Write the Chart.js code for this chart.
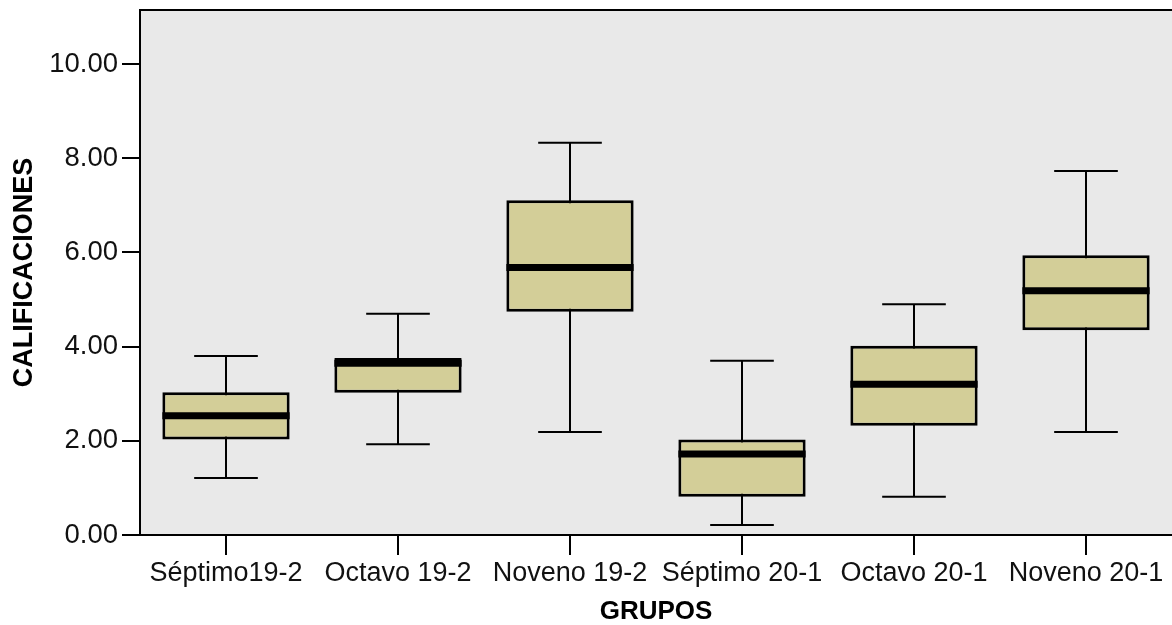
<!DOCTYPE html>
<html>
<head>
<meta charset="utf-8">
<script src="https://cdn.jsdelivr.net/npm/chart.js@4"></script>
<style>
  html, body { margin: 0; padding: 0; background: #fff; overflow: hidden; }
  #wrap { width: 1172px; height: 625px; position: relative; }
</style>
</head>
<body>
<div id="wrap"><canvas id="box-chart"></canvas></div>
<script>
var grupos = ["Séptimo19-2", "Octavo 19-2", "Noveno 19-2", "Séptimo 20-1", "Octavo 20-1", "Noveno 20-1"];
var minimos = [1.21, 1.93, 2.19, 0.21, 0.81, 2.19];
var cuartil1 = [2.03, 3.02, 4.74, 0.81, 2.32, 4.35];
var medianas = [2.53, 3.65, 5.68, 1.72, 3.20, 5.19];
var cuartil3 = [3.03, 3.76, 7.11, 2.03, 4.02, 5.94];
var maximos = [3.80, 4.70, 8.33, 3.70, 4.90, 7.73];
var ticksY = [0, 2, 4, 6, 8, 10];

var fuente = "'Liberation Sans', Arial, sans-serif";

// cajas como barras flotantes [Q1, Q3]
var cajas = cuartil1.map(function (q1, i) { return [q1, cuartil3[i]]; });

var boxPlugin = {
    id: 'boxplot',
    beforeDraw: function (chart) {
        var ctx = chart.ctx, a = chart.chartArea;
        ctx.save();
        ctx.fillStyle = '#e9e9e9';
        ctx.fillRect(a.left, a.top, a.right - a.left, a.bottom - a.top);
        ctx.restore();
    },
    beforeDatasetsDraw: function (chart) {
        var ctx = chart.ctx, y = chart.scales.y;
        var bars = chart.getDatasetMeta(0).data;
        ctx.save();
        ctx.strokeStyle = '#000';
        ctx.lineWidth = 2;
        bars.forEach(function (bar, i) {
            var yMin = y.getPixelForValue(minimos[i]);
            var yMax = y.getPixelForValue(maximos[i]);
            var cap = bar.width / 4;
            ctx.beginPath();
            ctx.moveTo(bar.x, yMin);
            ctx.lineTo(bar.x, yMax);
            ctx.moveTo(bar.x - cap, yMin);
            ctx.lineTo(bar.x + cap, yMin);
            ctx.moveTo(bar.x - cap, yMax);
            ctx.lineTo(bar.x + cap, yMax);
            ctx.stroke();
        });
        ctx.restore();
    },
    afterDatasetsDraw: function (chart) {
        var ctx = chart.ctx, y = chart.scales.y;
        var bars = chart.getDatasetMeta(0).data;
        ctx.save();
        ctx.strokeStyle = '#000';
        ctx.lineWidth = 7;
        bars.forEach(function (bar, i) {
            var ym = y.getPixelForValue(medianas[i]);
            ctx.beginPath();
            ctx.moveTo(bar.x - bar.width / 2, ym);
            ctx.lineTo(bar.x + bar.width / 2, ym);
            ctx.stroke();
        });
        // borde superior del area
        var a = chart.chartArea;
        ctx.lineWidth = 2;
        ctx.beginPath();
        ctx.moveTo(a.left - 1, a.top);
        ctx.lineTo(a.right, a.top);
        ctx.stroke();
        ctx.restore();
    }
};

new Chart(document.getElementById('box-chart'), {
    type: 'bar',
    data: {
        labels: grupos,
        datasets: [{
            data: cajas,
            backgroundColor: 'rgb(211,206,152)',
            borderColor: '#000',
            borderWidth: 3,
            borderSkipped: false,
            categoryPercentage: 1,
            barPercentage: 0.74
        }]
    },
    options: {
        responsive: true,
        maintainAspectRatio: false,
        animation: false,
        layout: { padding: { top: 10, left: 0, right: 0, bottom: 0 } },
        plugins: { legend: { display: false }, tooltip: { enabled: false } },
        scales: {
            x: {
                grid: { display: true, drawOnChartArea: false, offset: false, tickLength: 20, color: '#000', lineWidth: 2 },
                border: { display: true, color: '#000', width: 2 },
                ticks: { color: '#111', padding: 2, maxRotation: 0, autoSkip: false, font: { family: fuente, size: 27 } },
                title: { display: true, text: 'GRUPOS', color: '#000', padding: 0, font: { family: fuente, size: 26, weight: 'bold', lineHeight: 1 } },
                afterFit: function (s) { s.height = 90; s.paddingLeft = 0; s.paddingRight = 0; }
            },
            y: {
                min: 0,
                max: 11.15,
                grid: { display: true, drawOnChartArea: false, tickLength: 18, color: '#000', lineWidth: 2 },
                border: { display: true, color: '#000', width: 2 },
                ticks: {
                    color: '#111', padding: 4, font: { family: fuente, size: 27.5 },
                    callback: function (v) { return Number(v).toFixed(2); }
                },
                afterBuildTicks: function (s) { s.ticks = ticksY.map(function (v) { return { value: v }; }); },
                title: { display: true, text: 'CALIFICACIONES', color: '#000', padding: { top: 8 }, font: { family: fuente, size: 27, weight: 'bold' } },
                afterFit: function (s) { s.width = 140; s.paddingTop = 0; s.paddingBottom = 0; }
            }
        }
    },
    plugins: [boxPlugin]
});
</script>
</body>
</html>
